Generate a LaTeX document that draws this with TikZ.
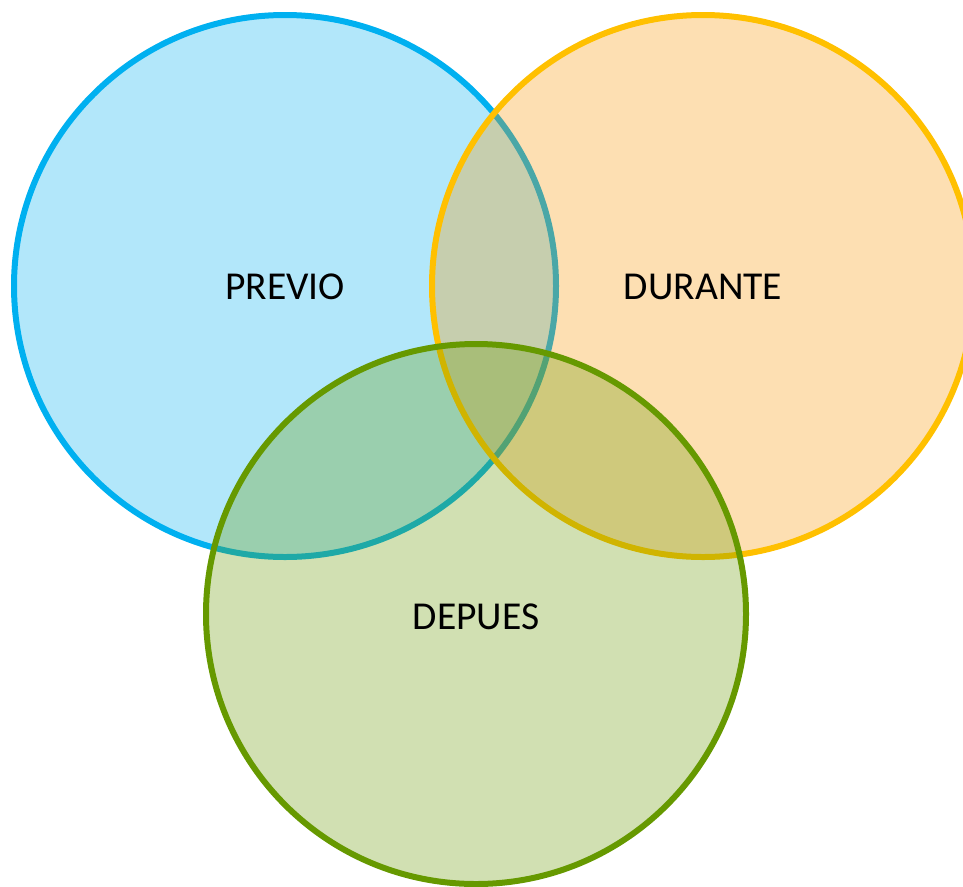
\documentclass[tikz,border=0pt]{standalone}
\usepackage{fontspec}
\setmainfont{Carlito}
\usepackage{xcolor}
\usetikzlibrary{positioning}
\definecolor{prevblue}{RGB}{0,176,240}
\definecolor{durorange}{RGB}{255,192,0}
\definecolor{durfill}{RGB}{248,148,0}
\definecolor{depgreen}{RGB}{102,153,0}

\begin{document}
\begin{tikzpicture}[x=0.02cm, y=-0.02cm,
	venn/.style={line width=0.12cm, fill opacity=0.3},
	lbl/.style={font=\fontsize{22.5}{27}\selectfont, inner sep=0pt}]
	\useasboundingbox (0,0) rectangle (963,886);
	\clip (0,0) rectangle (963,886);
	%draw circles
	\filldraw[venn, draw=prevblue, fill=prevblue] (285,286) circle (271);
	\filldraw[venn, draw=durorange, fill=durfill] (703,286) circle (271);
	\filldraw[venn, draw=depgreen, fill=depgreen] (476,614) circle (270);
	%labels
	\node[lbl] (previo) at (285,287) {PREVIO};
	\node[lbl] (durante) at (703,287) {DURANTE};
	\node[lbl] (depues) at (476,616.5) {DEPUES};
\end{tikzpicture}
\end{document}
